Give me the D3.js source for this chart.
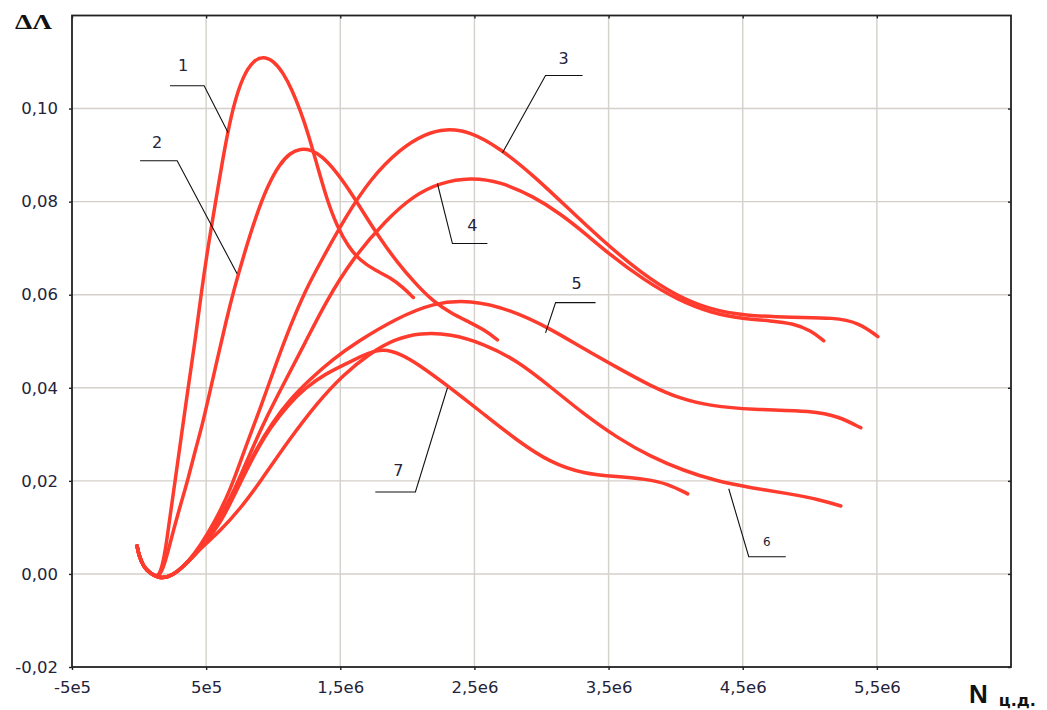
<!DOCTYPE html>
<html><head><meta charset="utf-8">
<script src="https://cdn.jsdelivr.net/npm/d3@7"></script>
<style>body{margin:0;background:#fff;} svg{display:block;}</style>
</head><body>
<svg id="chart" width="1047" height="710"></svg>
<script>
// ---- data (x: N, cycles; y: ΔΛ) ----
const xTickValues = [-5e5, 5e5, 1.5e6, 2.5e6, 3.5e6, 4.5e6, 5.5e6];
const xTickLabels = ["-5e5", "5e5", "1,5e6", "2,5e6", "3,5e6", "4,5e6", "5,5e6"];
const yTickValues = [-0.02, 0.00, 0.02, 0.04, 0.06, 0.08, 0.10];
const yTickLabels = ["-0,02", "0,00", "0,02", "0,04", "0,06", "0,08", "0,10"];

// common start of all curves
const hookX = [-14900, 0, 29900, 82100, 141800];
const hookY = [0.0060, 0.0039, 0.0017, 0.0001, -0.0008];
// common start of curves 3..7
const baseX = [209000, 283600, 365700];
const baseY = [-0.0008, 0.0004, 0.0026];

const c1x = [171600, 201500, 231300, 268700, 320900, 365700, 417900, 462700, 514900, 574600, 634300, 701500, 776100, 850700, 925400, 1000000, 1074600, 1141800, 1201500, 1261200, 1328400, 1403000, 1477600, 1559700, 1649300, 1761200, 1873100, 1970100, 2044800];
const c1y = [0.0015, 0.0060, 0.0125, 0.0200, 0.0308, 0.0400, 0.0501, 0.0602, 0.0705, 0.0806, 0.0910, 0.1006, 0.1071, 0.1103, 0.1112, 0.1103, 0.1077, 0.1039, 0.0996, 0.0946, 0.0877, 0.0802, 0.0746, 0.0703, 0.0673, 0.0652, 0.0637, 0.0615, 0.0594];

const c2x = [179100, 216400, 261200, 313400, 365700, 417900, 470100, 529900, 589600, 649300, 709000, 791000, 873100, 955200, 1044800, 1126900, 1201500, 1283600, 1365700, 1462700, 1574600, 1686600, 1798500, 1925400, 2059700, 2186600, 2320900, 2470100, 2582100, 2671600];
const c2y = [0.0011, 0.0049, 0.0099, 0.0153, 0.0204, 0.0265, 0.0318, 0.0394, 0.0469, 0.0544, 0.0613, 0.0695, 0.0770, 0.0832, 0.0880, 0.0905, 0.0914, 0.0912, 0.0897, 0.0867, 0.0822, 0.0770, 0.0720, 0.0669, 0.0624, 0.0587, 0.0561, 0.0540, 0.0523, 0.0503];

const c3x = [455200, 559700, 679100, 791000, 903000, 1014900, 1126900, 1238800, 1365700, 1537300, 1723900, 1947800, 2134300, 2283600, 2470100, 2694000, 2940300, 3179100, 3440300, 3738800, 4014900, 4261200, 4507500, 4880600, 5179100, 5365700, 5507500];
const c3y = [0.0060, 0.0110, 0.0178, 0.0271, 0.0355, 0.0447, 0.0533, 0.0609, 0.0677, 0.0766, 0.0849, 0.0914, 0.0946, 0.0957, 0.0951, 0.0914, 0.0856, 0.0791, 0.0720, 0.0647, 0.0596, 0.0568, 0.0555, 0.0551, 0.0551, 0.0540, 0.0510];

const c4x = [470100, 589600, 716400, 828400, 955200, 1089600, 1238800, 1388100, 1597000, 1835800, 2044800, 2246300, 2470100, 2694000, 2940300, 3141800, 3328400, 3492500, 3761200, 4014900, 4261200, 4507500, 4709000, 4880600, 5007500, 5104500];
const c4y = [0.0060, 0.0114, 0.0183, 0.0260, 0.0340, 0.0415, 0.0497, 0.0583, 0.0680, 0.0759, 0.0813, 0.0841, 0.0852, 0.0843, 0.0811, 0.0774, 0.0731, 0.0690, 0.0632, 0.0589, 0.0561, 0.0548, 0.0544, 0.0538, 0.0523, 0.0501];

const c5x = [470100, 604500, 738800, 865700, 992500, 1126900, 1276100, 1447800, 1626900, 1910400, 2194000, 2470100, 2768700, 3067200, 3313400, 3567200, 3813400, 4037300, 4261200, 4559700, 5029900, 5216400, 5380600];
const c5y = [0.0058, 0.0110, 0.0189, 0.0265, 0.0325, 0.0376, 0.0419, 0.0462, 0.0499, 0.0548, 0.0583, 0.0589, 0.0568, 0.0527, 0.0484, 0.0443, 0.0404, 0.0376, 0.0361, 0.0353, 0.0351, 0.0338, 0.0314];

const c6x = [455200, 604500, 753700, 903000, 1111900, 1328400, 1522400, 1723900, 1910400, 2097000, 2320900, 2567200, 2820900, 3067200, 3313400, 3567200, 3813400, 4059700, 4298500, 4559700, 4858200, 5082100, 5231300];
const c6y = [0.0054, 0.0092, 0.0140, 0.0198, 0.0286, 0.0368, 0.0428, 0.0475, 0.0505, 0.0518, 0.0516, 0.0495, 0.0458, 0.0402, 0.0344, 0.0292, 0.0252, 0.0222, 0.0200, 0.0185, 0.0172, 0.0159, 0.0146];

const c7x = [470100, 619400, 738800, 865700, 977600, 1104500, 1238800, 1388100, 1574600, 1709000, 1820900, 1947800, 2074600, 2320900, 2567200, 2820900, 3067200, 3313400, 3567200, 3776100, 3940300, 4089600];
const c7y = [0.0058, 0.0114, 0.0187, 0.0260, 0.0314, 0.0361, 0.0400, 0.0430, 0.0456, 0.0475, 0.0484, 0.0473, 0.0452, 0.0400, 0.0344, 0.0286, 0.0239, 0.0215, 0.0209, 0.0204, 0.0194, 0.0172];

// curve labels: text anchor and leader (start, elbow, point on curve)
const labelNames = ["1", "2", "3", "4", "5", "6", "7"];
const labelText  = [[328000, 0.1092], [134000, 0.0927], [3164000, 0.1108], [2485000, 0.0748], [3261000, 0.0624], [4679000, 0.0069], [1933000, 0.0222]];
const labelLeader = [
  [[231000, 0.1049], [485000, 0.1049], [664000, 0.0948]],
  [[7500, 0.0888], [284000, 0.0888], [731000, 0.0645]],
  [[3306000, 0.1071], [3030000, 0.1071], [2709000, 0.0905]],
  [[2597000, 0.0710], [2336000, 0.0710], [2224000, 0.0839]],
  [[3403000, 0.0583], [3105000, 0.0583], [3030000, 0.0518]],
  [[4821000, 0.0037], [4545000, 0.0037], [4396000, 0.0183]],
  [[1761000, 0.0176], [2060000, 0.0176], [2299000, 0.0400]]
];

// ---- layout ----
const svg = d3.select("#chart");
const L = 72, R = 1011, T = 15.5, B = 667;
const x = d3.scaleLinear().domain([-5e5, 6.5e6]).range([L, R]);
const y = d3.scaleLinear().domain([-0.02, 0.12]).range([B, T]);
const FONT = "'DejaVu Sans', Verdana, sans-serif";

// gridlines
svg.append("g").selectAll("line").data(xTickValues.slice(1)).join("line")
  .attr("x1", d => x(d)).attr("x2", d => x(d)).attr("y1", T).attr("y2", B)
  .attr("stroke", "#d4d0cb").attr("stroke-width", 1.4);
svg.append("g").selectAll("line").data(yTickValues.slice(1)).join("line")
  .attr("x1", L).attr("x2", R).attr("y1", d => y(d)).attr("y2", d => y(d))
  .attr("stroke", "#d4d0cb").attr("stroke-width", 1.4);

// axes
const xAxis = d3.axisBottom(x).tickValues(xTickValues).tickFormat((d, i) => xTickLabels[i]).tickSize(3).tickPadding(11);
const yAxis = d3.axisLeft(y).tickValues(yTickValues).tickFormat((d, i) => yTickLabels[i]).tickSize(3).tickPadding(11);
const xTop = d3.axisTop(x).tickValues(xTickValues).tickFormat("").tickSize(-3);
const yRight = d3.axisRight(y).tickValues(yTickValues).tickFormat("").tickSize(-3);
const gx = svg.append("g").attr("transform", `translate(0,${B})`).call(xAxis);
const gy = svg.append("g").attr("transform", `translate(${L},0)`).call(yAxis);
const gt = svg.append("g").attr("transform", `translate(0,${T})`).call(xTop);
const gr = svg.append("g").attr("transform", `translate(${R},0)`).call(yRight);
[gx, gy, gt, gr].forEach(g => {
  g.select(".domain").remove();
  g.selectAll(".tick line").attr("stroke", "#222").attr("stroke-width", 1.4);
  g.selectAll("text").attr("font-family", FONT).attr("font-size", 16.5).attr("fill", "#23233a");
});
// frame
svg.append("rect").attr("x", L).attr("y", T).attr("width", R - L).attr("height", B - T)
  .attr("fill", "none").attr("stroke", "#222").attr("stroke-width", 1.8);

// axis titles
svg.append("text").attr("x", 15).attr("y", 29).text("ΔΛ")
  .attr("font-family", "'Liberation Serif', 'Times New Roman', serif").attr("font-weight", "bold")
  .attr("font-size", 20).attr("textLength", 37).attr("lengthAdjust", "spacingAndGlyphs").attr("fill", "#111");
const nt = svg.append("text").attr("x", 969).attr("y", 703)
  .attr("font-family", "Arial, 'Liberation Sans', sans-serif").attr("font-weight", "bold").attr("fill", "#111");
nt.append("tspan").attr("font-size", 26).text("N");
nt.append("tspan").attr("font-family", FONT).attr("font-size", 16).attr("dx", 11).attr("dy", 3).text("ц.д.");

// curves
const line = d3.line().x(d => x(d[0])).y(d => y(d[1])).curve(d3.curveBasis);
const zip = (xs, ys) => xs.map((v, i) => [v, ys[i]]);
const hook = zip(hookX, hookY);
const base = zip(baseX, baseY);
const series = [
  hook.concat(zip(c1x, c1y)),
  hook.concat(zip(c2x, c2y)),
  hook.concat(base, zip(c3x, c3y)),
  hook.concat(base, zip(c4x, c4y)),
  hook.concat(base, zip(c5x, c5y)),
  hook.concat(base, zip(c6x, c6y)),
  hook.concat(base, zip(c7x, c7y))
];
svg.append("g").selectAll("path").data(series).join("path")
  .attr("d", d => line(d)).attr("fill", "none")
  .attr("stroke", "#ff3b2e").attr("stroke-width", 3.5)
  .attr("stroke-linecap", "round").attr("stroke-linejoin", "round");

// labels with leader lines
labelNames.forEach((name, i) => {
  const pts = labelLeader[i].map(p => [x(p[0]), y(p[1])]);
  svg.append("path").attr("d", d3.line()(pts)).attr("fill", "none").attr("stroke", "#111").attr("stroke-width", 1.1);
  svg.append("text").attr("x", x(labelText[i][0])).attr("y", y(labelText[i][1]))
    .attr("text-anchor", "middle").attr("dominant-baseline", "central")
    .attr("font-family", FONT).attr("font-size", name === "6" ? 12 : 16).attr("fill", "#23233a").text(name);
});
</script>
</body></html>
